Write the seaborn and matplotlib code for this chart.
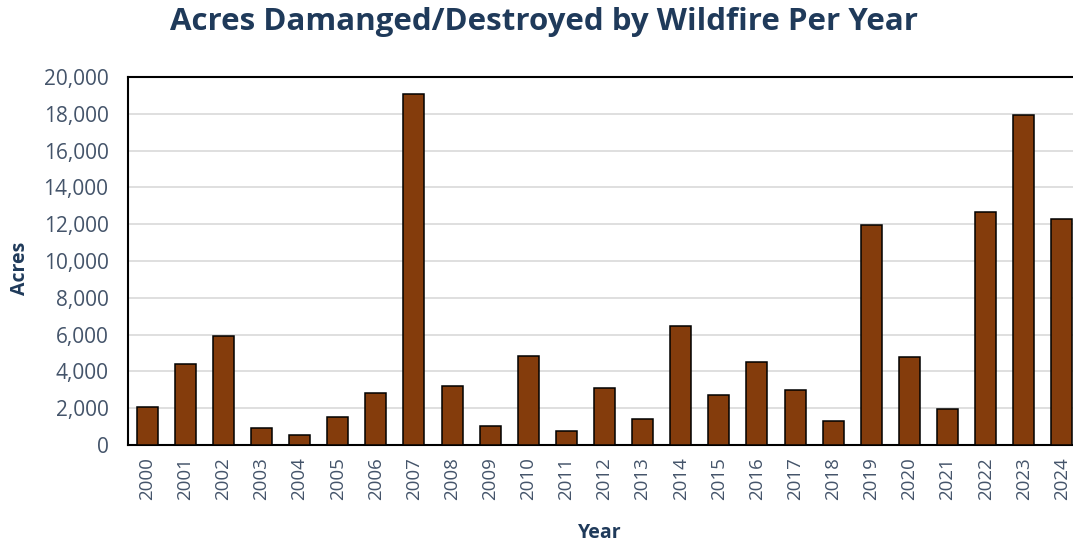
import matplotlib
matplotlib.use("Agg")
import matplotlib.pyplot as plt
from matplotlib.ticker import FuncFormatter, MultipleLocator
import seaborn as sns
import pandas as pd

years = [str(y) for y in range(2000, 2025)]
acres = [2050, 4400, 5950, 950, 550, 1500, 2800, 19100, 3230, 1050, 4840,
         760, 3120, 1400, 6470, 2700, 4530, 3010, 1290, 11980, 4770, 1940,
         12640, 17930, 12290]

df = pd.DataFrame({"Year": years, "Acres": acres})

sns.set_theme(style="white")
plt.rcParams["font.family"] = ["Open Sans", "DejaVu Sans"]

W, H = 1073, 546
fig = plt.figure(figsize=(W / 100, H / 100), dpi=100)
ax = fig.add_axes([128 / W, 1 - 445 / H, (1081 - 128) / W, (445 - 77) / H])

label_col = "#44546A"
title_col = "#1F3A5A"

sns.barplot(data=df, x="Year", y="Acres", color="#843C0C", width=0.55,
            edgecolor="black", linewidth=1.1, saturation=1, ax=ax, zorder=3)

ax.set_ylim(0, 20000)
ax.set_xlim(-0.5, len(years) - 0.5)
ax.yaxis.set_major_locator(MultipleLocator(2000))
ax.yaxis.set_major_formatter(FuncFormatter(lambda v, _: f"{int(v):,}"))
ax.grid(axis="y", color="#D9D9D9", linewidth=1.2, zorder=0)
ax.set_axisbelow(True)

for s in ax.spines.values():
    s.set_color("black")
    s.set_linewidth(1.5)

ax.tick_params(axis="y", labelsize=15, labelcolor=label_col, length=0, pad=14)
ax.tick_params(axis="x", labelsize=13.5, labelcolor=label_col, length=0,
               rotation=90, pad=9)

ax.set_xlabel("")
ax.set_ylabel("")
fig.text(600 / W, 1 - 533 / H, "Year", ha="center", va="center",
         fontsize=14, fontweight="bold", color=title_col)
fig.text(20 / W, 1 - 268 / H, "Acres", ha="center", va="center", rotation=90,
         fontsize=14, fontweight="bold", color=title_col)

fig.text(544 / W, 1 - 22 / H, "Acres Damanged/Destroyed by Wildfire Per Year",
         ha="center", va="center", fontsize=22.5, fontweight="bold", color=title_col)

fig.savefig("out.png", dpi=100)
